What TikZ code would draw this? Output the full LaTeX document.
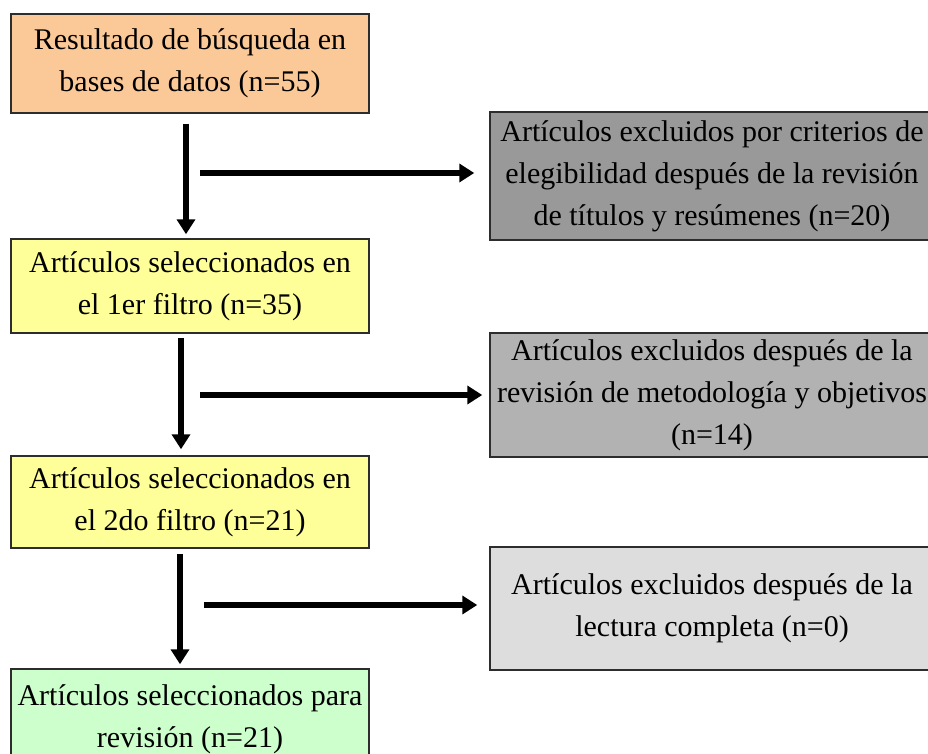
\documentclass[tikz,border=0pt]{standalone}
\usepackage{fontspec}
\setmainfont{Liberation Serif}
\usetikzlibrary{arrows.meta,positioning,calc}
\definecolor{boxOrange}{RGB}{251,201,151}
\definecolor{boxYellow}{RGB}{255,255,153}
\definecolor{boxGreen}{RGB}{204,255,204}
\definecolor{exclDark}{RGB}{153,153,153}
\definecolor{exclMid}{RGB}{178,178,178}
\definecolor{exclLight}{RGB}{221,221,221}
\definecolor{frameGray}{RGB}{45,45,45}

\begin{document}
\begin{tikzpicture}[x=1pt, y=-1pt,
    stagebox/.style={draw=frameGray, line width=1.5pt, rectangle, align=center,
      minimum width=358pt, inner sep=0pt, font=\fontsize{30}{42}\selectfont},
    exclbox/.style={stagebox, minimum width=444pt},
    flow/.style={-{Triangle[length=15pt,width=18pt]}, line width=5.5pt, black}]
    % Frame
    \useasboundingbox (0,0) rectangle (928,754);
    \clip (0,0) rectangle (928,754);
    % Left column, stages
    \node[stagebox, fill=boxOrange, minimum height=99pt] (b1) at (190,63.5)
      {Resultado de búsqueda en\\bases de datos (n=55)};
    \node[stagebox, fill=boxYellow, minimum height=94pt] (b2) at (190,286)
      {Artículos seleccionados en\\el 1er filtro (n=35)};
    \node[stagebox, fill=boxYellow, minimum height=92pt] (b3) at (190,502)
      {Artículos seleccionados en\\el 2do filtro (n=21)};
    \node[stagebox, fill=boxGreen, minimum height=100pt] (b4) at (190,719)
      {Artículos seleccionados para\\revisión (n=21)};
    % Right column, exclusions
    \node[exclbox, fill=exclDark, minimum height=128pt] (g1) at (712,176)
      {Artículos excluidos por criterios de\\elegibilidad después de la revisión\\de títulos y resúmenes (n=20)};
    \node[exclbox, fill=exclMid, minimum height=124pt] (g2) at (712,395)
      {Artículos excluidos después de la\\revisión de metodología y objetivos\\(n=14)};
    \node[exclbox, fill=exclLight, minimum height=123pt] (g3) at (712,608.5)
      {Artículos excluidos después de la\\lectura completa (n=0)};
    % Downward arrows
    \draw[flow] ([xshift=-4pt,yshift=-10pt]b1.south) -- ([xshift=-4pt,yshift=4pt]b2.north);
    \draw[flow] ([xshift=-9pt,yshift=-4pt]b2.south) -- ([xshift=-9pt,yshift=6pt]b3.north);
    \draw[flow] ([xshift=-10pt,yshift=-5pt]b3.south) -- ([xshift=-10pt,yshift=4pt]b4.north);
    % Side arrows
    \coordinate (s1) at (200,173);
    \coordinate (s2) at (200,395);
    \coordinate (s3) at (204,605);
    \draw[flow, shorten >=15pt] (s1) -- (s1 -| g1.west);
    \draw[flow, shorten >=7pt] (s2) -- (s2 -| g2.west);
    \draw[flow, shorten >=12pt] (s3) -- (s3 -| g3.west);
  \end{tikzpicture}
\end{document}
